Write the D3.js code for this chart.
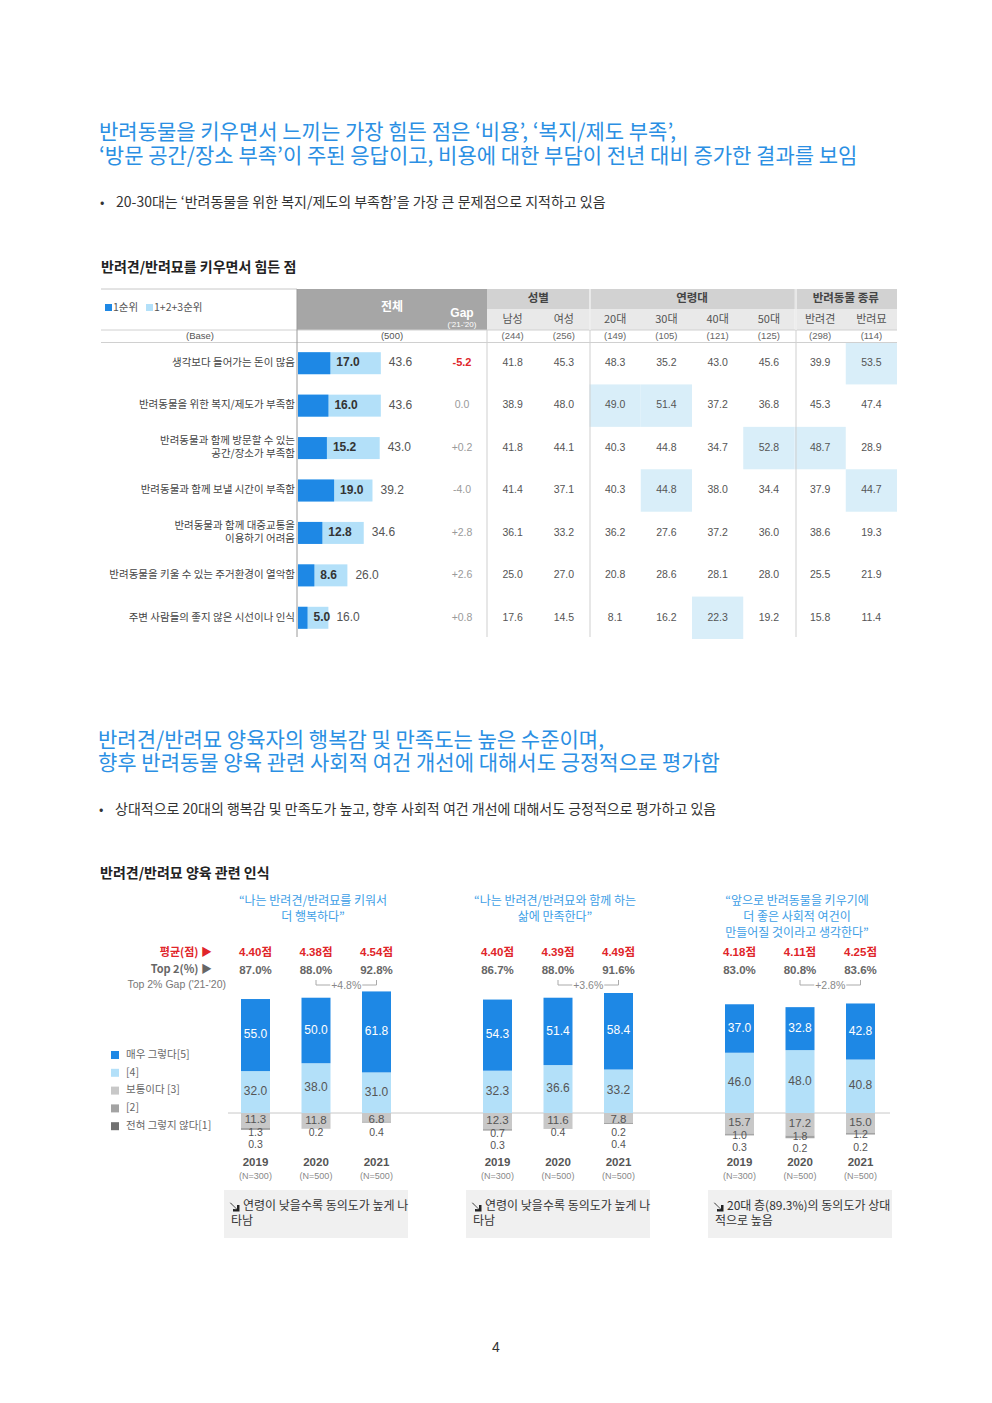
<!DOCTYPE html>
<html><head><meta charset="utf-8">
<script src="https://cdn.jsdelivr.net/npm/d3@7"></script>
<style>
html,body{margin:0;padding:0;background:#fff;}
svg{display:block;font-family:"Noto Sans CJK KR","Noto Sans",sans-serif;}
</style></head>
<body><svg id="c" width="992" height="1403"></svg>
<script>
// ---------- DATA: table ----------
const rowLabels = ["생각보다 들어가는 돈이 많음","반려동물을 위한 복지/제도가 부족함","반려동물과 함께 방문할 수 있는\n공간/장소가 부족함","반려동물과 함께 보낼 시간이 부족함","반려동물과 함께 대중교통을\n이용하기 어려움","반려동물을 키울 수 있는 주거환경이 열악함","주변 사람들의 좋지 않은 시선이나 인식"];
const rank1 = [17.0,16.0,15.2,19.0,12.8,8.6,5.0];
const rank123 = [43.6,43.6,43.0,39.2,34.6,26.0,16.0];
const gapValues = [-5.2,0.0,0.2,-4.0,2.8,2.6,0.8];
const segCols = ["남성","여성","20대","30대","40대","50대","반려견","반려묘"];
const segBase = ["(244)","(256)","(149)","(105)","(121)","(125)","(298)","(114)"];
const segGroups = [["성별",0,1],["연령대",2,5],["반려동물 종류",6,7]];
const segValues = [
  [41.8,45.3,48.3,35.2,43.0,45.6,39.9,53.5],
  [38.9,48.0,49.0,51.4,37.2,36.8,45.3,47.4],
  [41.8,44.1,40.3,44.8,34.7,52.8,48.7,28.9],
  [41.4,37.1,40.3,44.8,38.0,34.4,37.9,44.7],
  [36.1,33.2,36.2,27.6,37.2,36.0,38.6,19.3],
  [25.0,27.0,20.8,28.6,28.1,28.0,25.5,21.9],
  [17.6,14.5,8.1,16.2,22.3,19.2,15.8,11.4]
];
const highlights = [[0,7],[1,2],[1,3],[2,5],[2,6],[3,3],[3,7],[6,4]];

// ---------- DATA: stacked bars ----------
const groupTitles = [["“나는 반려견/반려묘를 키워서","더 행복하다”"],["“나는 반려견/반려묘와 함께 하는","삶에 만족한다”"],["“앞으로 반려동물을 키우기에","더 좋은 사회적 여건이","만들어질 것이라고 생각한다”"]];
const years = ["2019","2020","2021"];
const yearN = ["(N=300)","(N=500)","(N=500)"];
const meanScores = [["4.40점","4.38점","4.54점"],["4.40점","4.39점","4.49점"],["4.18점","4.11점","4.25점"]];
const top2 = [["87.0%","88.0%","92.8%"],["86.7%","88.0%","91.6%"],["83.0%","80.8%","83.6%"]];
const top2Gap = ["+4.8%","+3.6%","+2.8%"];
const s5 = [[55.0,50.0,61.8],[54.3,51.4,58.4],[37.0,32.8,42.8]];
const s4 = [[32.0,38.0,31.0],[32.3,36.6,33.2],[46.0,48.0,40.8]];
const s3 = [[11.3,11.8,6.8],[12.3,11.6,7.8],[15.7,17.2,15.0]];
const s2 = [[1.3,0.2,0.0],[0.7,0.4,0.2],[1.0,1.8,1.2]];
const s1 = [[0.3,0.0,0.4],[0.3,0.0,0.4],[0.3,0.2,0.2]];
const legendLabels = ["매우 그렇다[5]","[4]","보통이다 [3]","[2]","전혀 그렇지 않다[1]"];
const notes = [["연령이 낮을수록 동의도가 높게 나","타남"],["연령이 낮을수록 동의도가 높게 나","타남"],["20대 층(89.3%)의 동의도가 상대","적으로 높음"]];

// ---------- styles ----------
const BLUE="#1e88e5", LBLUE="#b3e0f9", TITLE="#2b8fe3", QUOTE="#3d9ee6";
const NUMF='"Liberation Sans","Noto Sans CJK KR",sans-serif';
const segColors=[BLUE,LBLUE,"#c8c8c8","#a3a3a3","#717171"];
const svg = d3.select("#c");

function txt(g,x,y,s,o={}){
  const t=g.append("text").attr("x",x).attr("y",y).text(s)
   .attr("font-size",o.size||12).attr("fill",o.fill||"#333")
   .attr("text-anchor",o.anchor||"start").attr("dominant-baseline",o.base||"middle");
  if(o.weight) t.attr("font-weight",o.weight);
  if(o.num) t.attr("font-family",NUMF);
  return t;
}
function multi(g,x,y,lines,dy,o={}){
  const t=g.append("text").attr("x",x).attr("y",y)
   .attr("font-size",o.size||12).attr("fill",o.fill||"#333")
   .attr("text-anchor",o.anchor||"start").attr("dominant-baseline","middle");
  lines.forEach((l,k)=>t.append("tspan").attr("x",x).attr("y",y+k*dy).text(l));
  return t;
}

// ---------- Section 1 headings ----------
multi(svg,99,133,["반려동물을 키우면서 느끼는 가장 힘든 점은 ‘비용’, ‘복지/제도 부족’,","‘방문 공간/장소 부족’이 주된 응답이고, 비용에 대한 부담이 전년 대비 증가한 결과를 보임"],24,{size:21,fill:TITLE});
txt(svg,100,203,"•",{size:13,fill:"#333"});
txt(svg,116,203,"20-30대는 ‘반려동물을 위한 복지/제도의 부족함’을 가장 큰 문제점으로 지적하고 있음",{size:14,fill:"#333"});
txt(svg,101,268,"반려견/반려묘를 키우면서 힘든 점",{size:14,fill:"#222",weight:"bold"});

// ---------- Table ----------
const T = svg.append("g");
const yRow = d3.scaleBand().domain(d3.range(rowLabels.length)).range([342,639]);
const xCol = d3.scaleBand().domain(d3.range(segCols.length)).range([487,897]);
const xBar = d3.scaleLinear().domain([0,100]).range([298,488]);

T.append("rect").attr("x",297).attr("y",289).attr("width",190).attr("height",41).attr("fill","#a6a6a6");
segGroups.forEach(([name,a,b])=>{
  const x0=xCol(a), x1=xCol(b)+xCol.bandwidth();
  T.append("rect").attr("x",x0).attr("y",289).attr("width",x1-x0).attr("height",20).attr("fill","#d2d2d2");
  T.append("rect").attr("x",x0).attr("y",309).attr("width",x1-x0).attr("height",21).attr("fill","#e9e9e9");
  txt(T,(x0+x1)/2,299,name,{size:11.5,fill:"#444",anchor:"middle",weight:"bold"});
});
segCols.forEach((c,i)=>{
  txt(T,xCol(i)+xCol.bandwidth()/2,320,c,{size:11,fill:"#555",anchor:"middle"});
  txt(T,xCol(i)+xCol.bandwidth()/2,336,segBase[i],{size:9.5,fill:"#666",anchor:"middle",num:1});
});
txt(T,392,308,"전체",{size:12,fill:"#fff",anchor:"middle",weight:"bold"});
txt(T,462,314,"Gap",{size:12,fill:"#fff",anchor:"middle",weight:"bold",num:1});
txt(T,462,325,"('21-'20)",{size:8,fill:"#fff",anchor:"middle",num:1});
T.append("rect").attr("x",105).attr("y",304).attr("width",7).attr("height",7).attr("fill",BLUE);
txt(T,113,308,"1순위",{size:10.5,fill:"#555"});
T.append("rect").attr("x",146).attr("y",304).attr("width",7).attr("height",7).attr("fill",LBLUE);
txt(T,154,308,"1+2+3순위",{size:10.5,fill:"#555"});
txt(T,200,336,"(Base)",{size:9.5,fill:"#555",anchor:"middle",num:1});
txt(T,392,336,"(500)",{size:9.5,fill:"#555",anchor:"middle",num:1});

highlights.forEach(([r,c])=>{
  T.append("rect").attr("x",xCol(c)).attr("y",yRow(r)).attr("width",xCol.bandwidth()).attr("height",yRow.bandwidth()).attr("fill","#d9eef9");
});

T.append("line").attr("x1",101).attr("x2",297).attr("y1",289).attr("y2",289).attr("stroke","#c8c8c8");
T.append("line").attr("x1",101).attr("x2",897).attr("y1",330).attr("y2",330).attr("stroke","#d0d0d0");
T.append("line").attr("x1",101).attr("x2",897).attr("y1",342.5).attr("y2",342.5).attr("stroke","#d0d0d0");
T.append("line").attr("x1",297).attr("x2",297).attr("y1",289).attr("y2",637).attr("stroke","#9a9a9a");
[487,590,796].forEach(x=>{
  T.append("line").attr("x1",x).attr("x2",x).attr("y1",x===487?330:289).attr("y2",637).attr("stroke","#cfcfcf");
});
[590,796].forEach(x=>T.append("line").attr("x1",x).attr("x2",x).attr("y1",289).attr("y2",330).attr("stroke","#fff"));

rowLabels.forEach((lab,i)=>{
  const cy=yRow(i)+yRow.bandwidth()/2;
  const lines=lab.split("\n");
  lines.forEach((l,k)=>txt(T,295,cy+(k-(lines.length-1)/2)*13,l,{size:10.5,fill:"#444",anchor:"end"}));
  T.append("rect").attr("x",xBar(0)).attr("y",cy-11).attr("width",xBar(rank123[i])-xBar(0)).attr("height",22).attr("fill",LBLUE);
  T.append("rect").attr("x",xBar(0)).attr("y",cy-11).attr("width",xBar(rank1[i])-xBar(0)).attr("height",22).attr("fill",BLUE);
  txt(T,xBar(rank1[i])+6,cy,rank1[i].toFixed(1),{size:12,fill:"#333",weight:"bold",num:1});
  txt(T,xBar(rank123[i])+8,cy,rank123[i].toFixed(1),{size:12,fill:"#555",num:1});
  const g=gapValues[i];
  const gs=(g>0?"+":"")+g.toFixed(1);
  if(g<=-5) txt(T,462,cy,gs,{size:11,fill:"#e0252a",anchor:"middle",weight:"bold",num:1});
  else txt(T,462,cy,gs,{size:10.5,fill:"#9a9a9a",anchor:"middle",num:1});
  segValues[i].forEach((v,c)=>txt(T,xCol(c)+xCol.bandwidth()/2,cy,v.toFixed(1),{size:10.5,fill:"#555",anchor:"middle",num:1}));
});

// ---------- Section 2 headings ----------
multi(svg,98,741,["반려견/반려묘 양육자의 행복감 및 만족도는 높은 수준이며,","향후 반려동물 양육 관련 사회적 여건 개선에 대해서도 긍정적으로 평가함"],23,{size:21,fill:TITLE});
txt(svg,99,810,"•",{size:13,fill:"#333"});
txt(svg,115,810,"상대적으로 20대의 행복감 및 만족도가 높고, 향후 사회적 여건 개선에 대해서도 긍정적으로 평가하고 있음",{size:14,fill:"#333"});
txt(svg,100,874,"반려견/반려묘 양육 관련 인식",{size:14,fill:"#222",weight:"bold"});

// ---------- Stacked bars ----------
const B = svg.append("g");
const gX = d3.scalePoint().domain([0,1,2]).range([316,800]);
const yrX = d3.scalePoint().domain(years).range([-60.5,60.5]);
const base = 1113;
const h = d3.scaleLinear().domain([0,100]).range([0,131]);
const barW = 29;

txt(B,212,953,"평균(점) ▶",{size:11,fill:"#e0252a",anchor:"end",weight:"bold"});
txt(B,212,970,"Top 2(%) ▶",{size:11,fill:"#666",anchor:"end",weight:"bold"});
txt(B,226,985,"Top 2% Gap ('21-'20)",{size:10.5,fill:"#777",anchor:"end",num:1});

legendLabels.forEach((l,k)=>{
  const y=1055+k*17.8;
  B.append("rect").attr("x",111).attr("y",y-4).attr("width",8).attr("height",8).attr("fill",segColors[k]);
  txt(B,126,y,l,{size:10.5,fill:"#666"});
});

B.append("line").attr("x1",228).attr("x2",890).attr("y1",base).attr("y2",base).attr("stroke","#c8c8c8");

[0,1,2].forEach(g=>{
  const gc=gX(g);
  groupTitles[g].forEach((l,k)=>txt(B,gc-3,902+k*16,l,{size:12,fill:QUOTE,anchor:"middle"}));
  years.forEach((yr,j)=>{
    const cx=gc+yrX(yr);
    txt(B,cx,953,meanScores[g][j],{size:11.5,fill:"#e0252a",anchor:"middle",weight:"bold",num:1});
    txt(B,cx,971,top2[g][j],{size:11.5,fill:"#666",anchor:"middle",weight:"bold",num:1});
    const top4=base-h(s4[g][j]), top5=top4-h(s5[g][j]);
    B.append("rect").attr("x",cx-barW/2).attr("y",top4).attr("width",barW).attr("height",h(s4[g][j])).attr("fill",segColors[1]);
    B.append("rect").attr("x",cx-barW/2).attr("y",top5).attr("width",barW).attr("height",h(s5[g][j])).attr("fill",segColors[0]);
    txt(B,cx,(top5+top4)/2,s5[g][j].toFixed(1),{size:12,fill:"#fff",anchor:"middle",num:1});
    txt(B,cx,(top4+base)/2,s4[g][j].toFixed(1),{size:12,fill:"#555",anchor:"middle",num:1});
    const b3=base+h(s3[g][j]), b2=b3+h(s2[g][j]);
    B.append("rect").attr("x",cx-barW/2).attr("y",base).attr("width",barW).attr("height",h(s3[g][j])).attr("fill",segColors[2]);
    B.append("rect").attr("x",cx-barW/2).attr("y",b3).attr("width",barW).attr("height",h(s2[g][j])).attr("fill",segColors[3]);
    B.append("rect").attr("x",cx-barW/2).attr("y",b2).attr("width",barW).attr("height",h(s1[g][j])).attr("fill",segColors[4]);
    const l3=Math.max(base+7,(base+b3)/2);
    txt(B,cx,l3,s3[g][j].toFixed(1),{size:11.5,fill:"#555",anchor:"middle",num:1});
    const small=[s2[g][j],s1[g][j]].filter(v=>v>0);
    small.forEach((v,k)=>txt(B,cx,l3+12.8+k*12.3,v.toFixed(1),{size:10.5,fill:"#555",anchor:"middle",num:1}));
    txt(B,cx,1163,yr,{size:11.5,fill:"#555",anchor:"middle",weight:"bold",num:1});
    txt(B,cx,1176.5,yearN[j],{size:9,fill:"#888",anchor:"middle",num:1});
  });
  const xa=gc+yrX("2020"), xb=gc+yrX("2021"), mx=(xa+xb)/2;
  B.append("path").attr("d",`M${xa},980V985H${mx-16}M${mx+16},985H${xb}V980`).attr("fill","none").attr("stroke","#aaa");
  txt(B,mx,986,top2Gap[g],{size:10.5,fill:"#888",anchor:"middle",num:1});
  B.append("rect").attr("x",gc-92).attr("y",1190).attr("width",184).attr("height",48).attr("fill","#f0f0f0");
  const ax=gc-85, ay=1207;
  B.append("path").attr("d",`M${ax},${ay-4}L${ax+6},${ay+2}L${ax+6},${ay-2}L${ax+8.5},${ay-2}L${ax+8.5},${ay+4.5}L${ax+2},${ay+4.5}L${ax+2},${ay+2}L${ax+5.5},${ay+2.3}L${ax-1.5},${ay-4.5}Z`).attr("fill","#222");
  notes[g].forEach((l,k)=>txt(B,k===0?ax+12:ax,1207+k*15,l,{size:12,fill:"#333"}));
});

txt(svg,496,1348,"4",{size:14,fill:"#333",anchor:"middle",num:1});
</script></body></html>
